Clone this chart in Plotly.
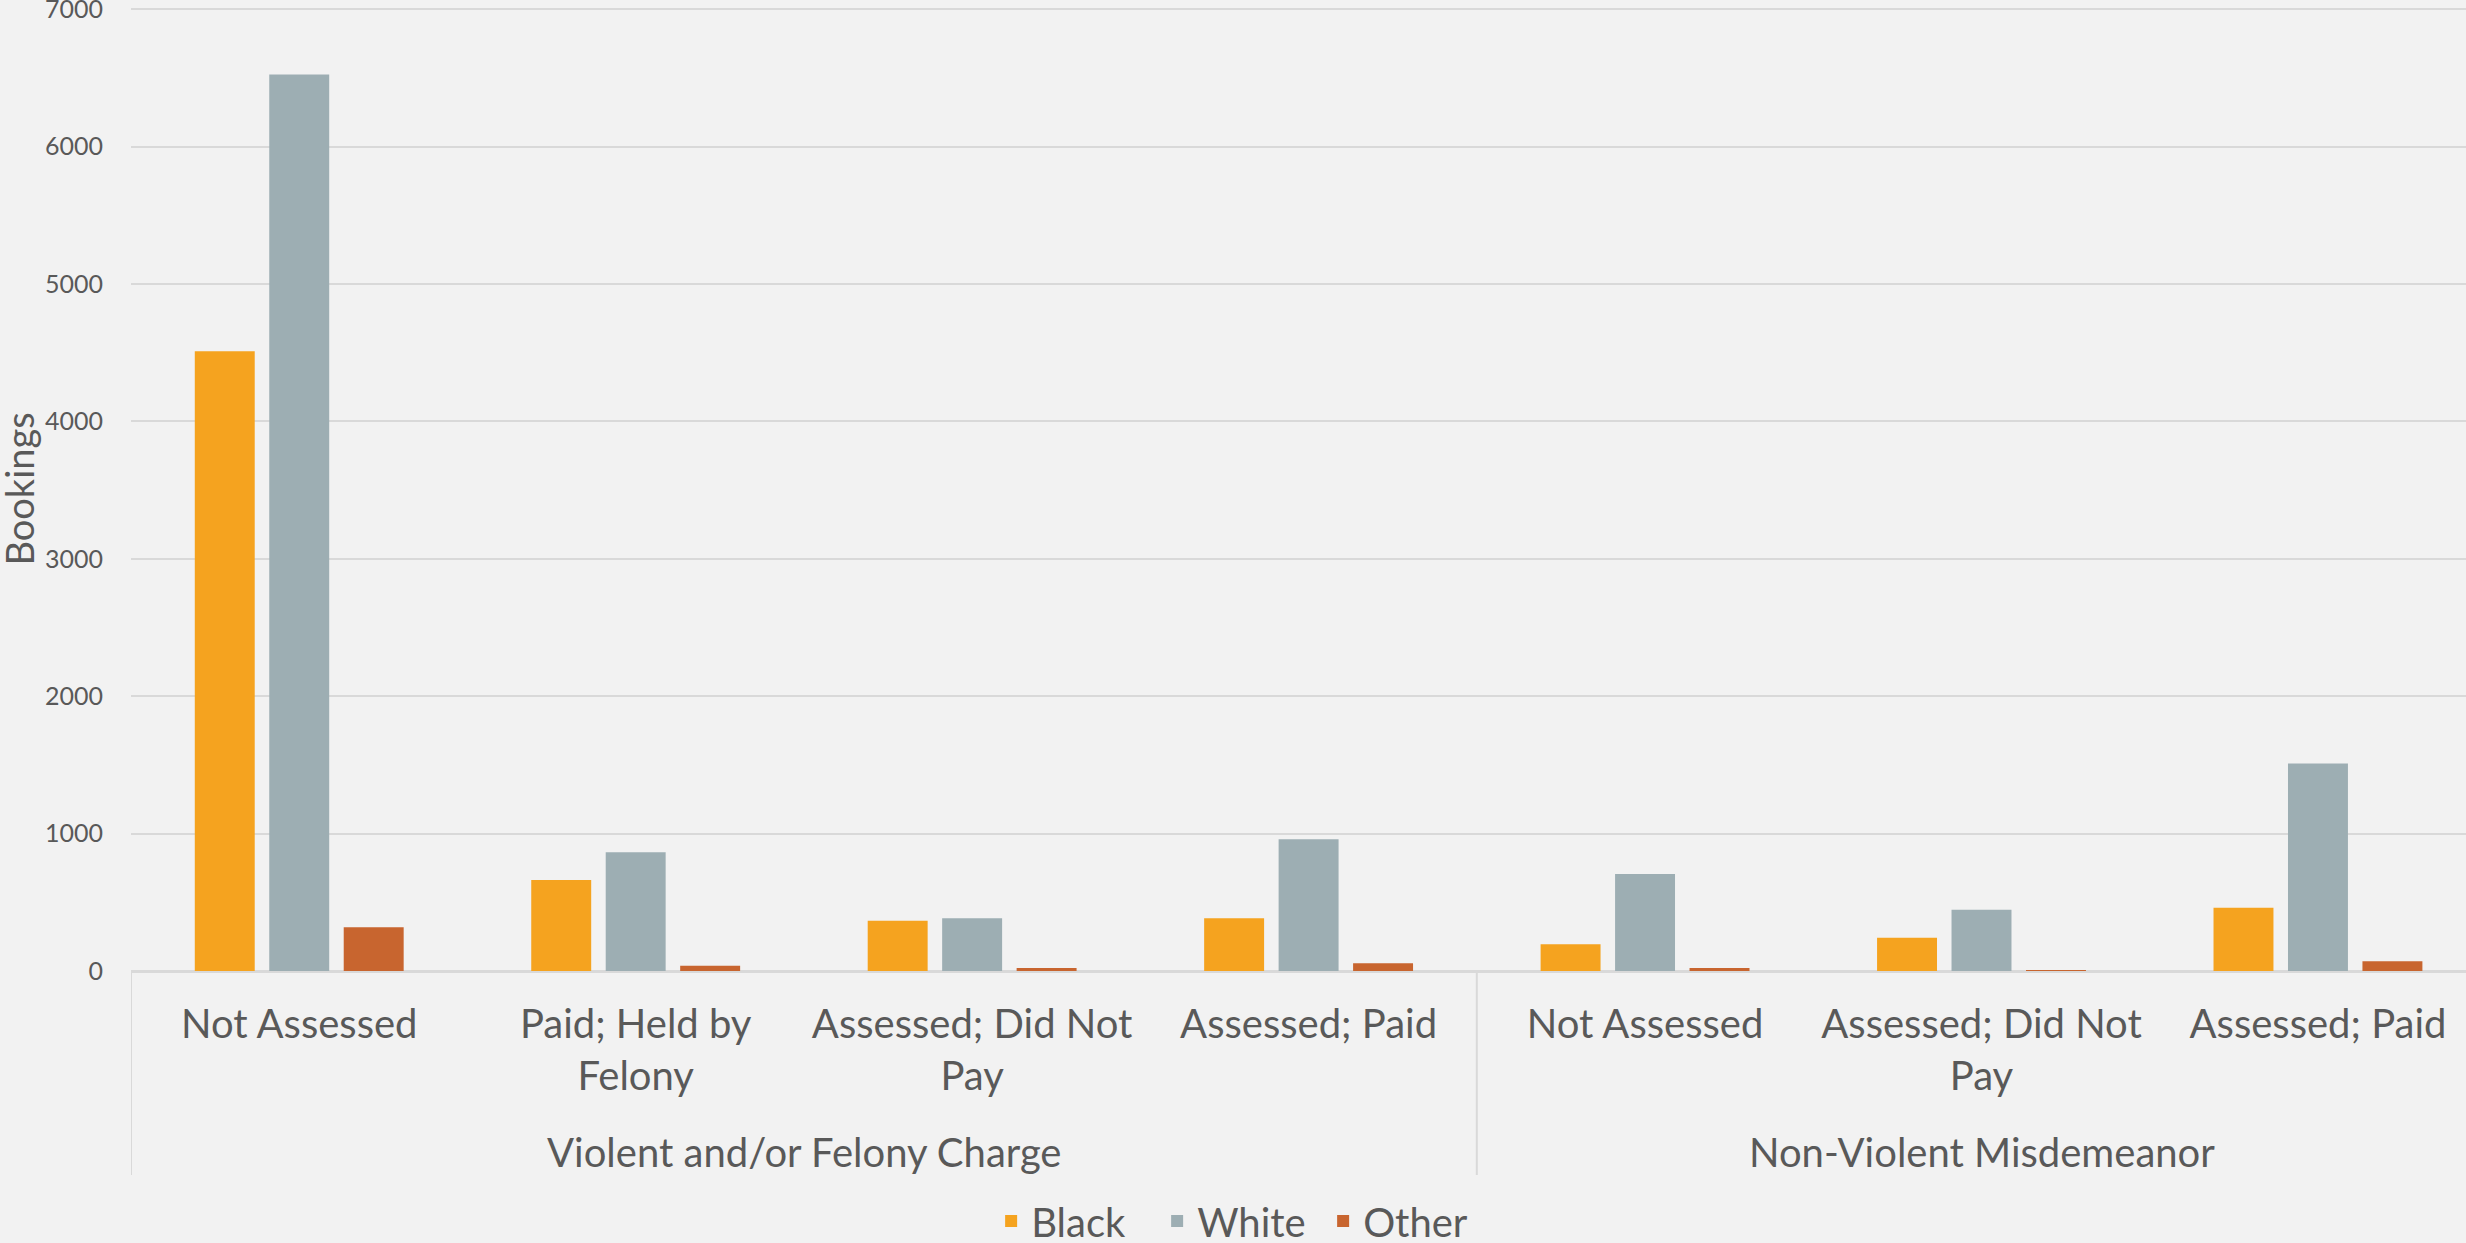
import plotly.graph_objects as go

groups = ["Violent and/or Felony Charge"] * 4 + ["Non-Violent Misdemeanor"] * 3
subcats = ["Not Assessed", "Paid; Held by<br>Felony", "Assessed; Did Not<br>Pay", "Assessed; Paid",
           "Not Assessed", "Assessed; Did Not<br>Pay", "Assessed; Paid"]
black = [4510, 663, 366, 383, 195, 242, 461]
white = [6524, 865, 383, 958, 705, 446, 1510]
other = [318, 39, 22, 56, 22, 4, 71]
series_names = ["Black", "White", "Other"]
colors = ["#F5A31F", "#9DAEB3", "#C8652F"]
y_ticks = [0, 1000, 2000, 3000, 4000, 5000, 6000, 7000]

FONT = "Lato, 'Open Sans', sans-serif"
TXT = "#595959"
GRID = "#D9D9D9"

W, H = 2466, 1243
ML, MT, MB = 131, 8, 272
PLOT_W, PLOT_H = W - ML, H - MT - MB

# unique category keys built from group + sub-category
keys = [g + " | " + s for g, s in zip(groups, subcats)]

fig = go.Figure()
for name, vals, col in zip(series_names, [black, white, other], colors):
    fig.add_trace(go.Bar(x=keys, y=vals, name=name, marker_color=col, marker_line_width=0))

# group labels and dividers derived from the group list
group_names = list(dict.fromkeys(groups))
bounds = [-0.5]
for g in group_names:
    idx = [i for i, gg in enumerate(groups) if gg == g]
    center = (idx[0] + idx[-1]) / 2
    bounds.append(idx[-1] + 0.5)
    fig.add_annotation(text=g, x=center, xref="x", y=-181 / PLOT_H, yref="paper",
                       xanchor="center", yanchor="middle", showarrow=False,
                       font=dict(size=40, color=TXT, family=FONT))
for b in bounds:
    fig.add_shape(type="line", x0=b, x1=b, xref="x", y0=0, y1=-204 / PLOT_H, yref="paper",
                  line=dict(color=GRID, width=2), layer="below")

fig.update_layout(
    width=W, height=H,
    paper_bgcolor="#F2F2F2", plot_bgcolor="#F2F2F2",
    margin=dict(l=ML, r=0, t=MT, b=MB, pad=0, autoexpand=False),
    barmode="group", bargap=0.336, bargroupgap=0.195,
    font=dict(family=FONT, color=TXT, size=40),
    legend=dict(orientation="h", x=0.475, xanchor="center", y=-250 / PLOT_H, yanchor="middle",
                font=dict(size=40, color=TXT), bgcolor="rgba(0,0,0,0)",
                entrywidth=121, entrywidthmode="pixels"),
    showlegend=True,
)
fig.update_xaxes(type="category", range=[-0.5, 6.44], showgrid=False, automargin=False,
                 tickmode="array", tickvals=keys, ticktext=subcats,
                 tickfont=dict(size=40, color=TXT), showline=False,
                 ticks="outside", ticklen=18, tickcolor="rgba(0,0,0,0)")
fig.update_yaxes(range=[0, 7008], tickmode="array", tickvals=y_ticks, automargin=False,
                 showgrid=True, gridcolor=GRID, gridwidth=2,
                 zeroline=True, zerolinecolor=GRID, zerolinewidth=3,
                 tickfont=dict(size=25, color=TXT), ticks="outside", ticklen=22,
                 tickcolor="rgba(0,0,0,0)", showline=False, ticklabeloverflow="allow")
fig.add_annotation(text="Bookings", xref="paper", yref="paper", x=-(ML - 18) / PLOT_W, y=0.5,
                   xanchor="center", yanchor="middle", textangle=-90, showarrow=False,
                   font=dict(size=38, color=TXT, family=FONT))
fig.write_html("out.html", config={"displayModeBar": False},
               post_script="document.body.style.margin='0';document.body.style.overflow='hidden';")
